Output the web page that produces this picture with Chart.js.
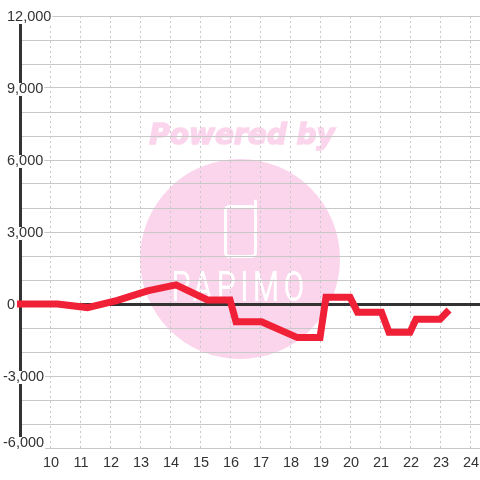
<!DOCTYPE html>
<html>
<head>
<meta charset="utf-8">
<style>
  html, body { margin: 0; padding: 0; background: #fff; }
  #wrap { width: 480px; height: 480px; }
</style>
<script src="https://cdn.jsdelivr.net/npm/chart.js@4/dist/chart.umd.min.js"></script>
</head>
<body>
<div id="wrap"><canvas id="chart" width="480" height="480"></canvas></div>
<script>
// values
const hours = [8.9, 10.25, 11.25, 12.25, 13.25, 14.2, 15.25, 16.0, 16.2, 17.05, 18.25, 19.0, 19.2, 20.0, 20.25, 21.05, 21.3, 22.0, 22.2, 23.0, 23.3];
const profit = [0, 0, -150, 150, 550, 800, 170, 170, -740, -740, -1400, -1400, 280, 280, -340, -340, -1180, -1180, -640, -640, -250];
const yTickValues = [12000, 9000, 6000, 3000, 0, -3000, -6000];
const yTickLabels = ['12,000', '9,000', '6,000', '3,000', '0', '-3,000', '-6,000'];

const tickFont = '14.5px "Liberation Sans"';

// logo sits behind the grid
const watermark = {
  id: 'watermark',
  beforeDraw(chart) {
    const c = chart.ctx;
    c.save();
    c.fillStyle = '#fbd5ec';
    c.strokeStyle = '#fbd5ec';
    c.beginPath();
    c.arc(240, 259, 100, 0, Math.PI * 2);
    c.fill();
    c.font = 'italic bold 28px "DejaVu Sans"';
    c.textAlign = 'center';
    c.textBaseline = 'middle';
    c.lineWidth = 1.5;
    c.fillText('Powered by', 242, 137);
    c.strokeText('Powered by', 242, 137);
    c.strokeStyle = '#fff';
    c.lineWidth = 3;
    c.beginPath();
    c.roundRect(225.5, 206.5, 30, 50, 4);
    c.stroke();
    c.lineCap = 'round';
    c.beginPath();
    c.moveTo(255.5, 212);
    c.lineTo(255.5, 201);
    c.stroke();
    c.fillStyle = '#fff';
    c.font = '42px Roboto';
    c.letterSpacing = '6px';
    c.translate(240, 290);
    c.scale(0.72, 1);
    c.fillText('PAPIMO', 0, 0);
    c.restore();
  }
};

// the reference hangs the minus signs left and lifts the bottom label
const nudgeLabels = {
  id: 'nudgeLabels',
  beforeDraw(chart) {
    chart.scales.x.getLabelItems().forEach(item => {
      if (item.nudged) return;
      item.nudged = true;
      item.options.translation[0] += 1;
      item.options.translation[1] += 1;
    });
    chart.scales.y.getLabelItems().forEach(item => {
      if (item.nudged) return;
      item.nudged = true;
      item.options.translation[1] += 1;
      if (item.label.startsWith('-')) item.options.translation[0] -= 4;
      if (item.label === '-6,000') item.options.translation[1] -= 6;
    });
  },
  // white patches under the y labels, they break the axis and the grid lines
  afterDatasetsDraw(chart) {
    const c = chart.ctx;
    c.save();
    c.font = tickFont;
    c.fillStyle = '#fff';
    chart.scales.y.getLabelItems().forEach(item => {
      if (!item.label) return;
      const [x, y] = item.options.translation;
      const w = c.measureText(item.label).width;
      c.fillRect(x - 1, y - 6, w + 2, item.label === '-6,000' ? 14 : 13);
    });
    c.restore();
  }
};

new Chart(document.getElementById('chart'), {
  type: 'line',
  data: {
    datasets: [{
      data: hours.map((h, i) => ({ x: h, y: profit[i] })),
      borderColor: '#f02036',
      borderWidth: 7,
      borderJoinStyle: 'miter',
      pointRadius: 0,
      tension: 0,
      clip: false
    }]
  },
  options: {
    responsive: false,
    animation: false,
    layout: { padding: { top: 16 } },
    plugins: { legend: { display: false }, tooltip: { enabled: false } },
    scales: {
      x: {
        type: 'linear',
        min: 9,
        max: 24.3333,
        afterFit(scale) {
          scale.height = 32;
          scale.paddingLeft = 0;
          scale.paddingRight = 0;
        },
        border: { display: false, dash: [2, 3] },
        grid: { color: '#c8c8c8', lineWidth: 1, tickLength: 0 },
        ticks: {
          stepSize: 1,
          includeBounds: false,
          autoSkip: false,
          maxRotation: 0,
          padding: 5,
          color: '#333',
          font: { family: '"Liberation Sans"', size: 14.5 },
          callback: v => (v >= 10 ? String(v) : '')
        }
      },
      y: {
        min: -6000,
        max: 12000,
        afterFit(scale) {
          scale.width = 20;
          scale.paddingTop = 0;
          scale.paddingBottom = 0;
        },
        border: { color: '#333', width: 3 },
        grid: {
          color: ctx => (ctx.tick.value === 0 ? '#333' : '#c8c8c8'),
          lineWidth: ctx => (ctx.tick.value === 0 ? 3 : 1),
          tickLength: 0
        },
        ticks: {
          stepSize: 1000,
          autoSkip: false,
          mirror: true,
          padding: -13,
          z: 1,
          color: '#333',
          font: { family: '"Liberation Sans"', size: 14.5, lineHeight: 1 },
          callback: v => {
            const i = yTickValues.indexOf(v);
            return i < 0 ? '' : yTickLabels[i];
          }
        }
      }
    }
  },
  plugins: [watermark, nudgeLabels]
});
</script>
</body>
</html>
